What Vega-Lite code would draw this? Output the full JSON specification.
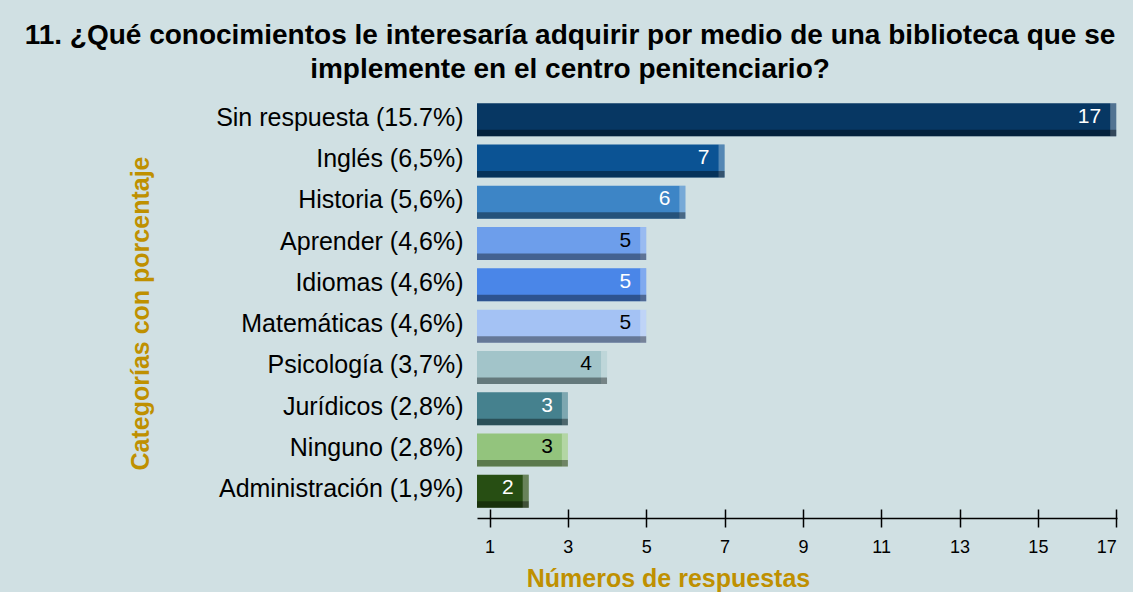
{
  "$schema": "https://vega.github.io/schema/vega-lite/v6.json",
  "autosize": {"type": "none"},
  "width": 640,
  "height": 413,
  "padding": {"left": 477, "top": 99, "right": 16, "bottom": 80},
  "background": "#D0E0E3",
  "config": {"view": {"stroke": null}, "font": "Liberation Sans", "axis": {"grid": false}},
  "title": {
    "text": ["11. ¿Qué conocimientos le interesaría adquirir por medio de una biblioteca que se", "implemente en el centro penitenciario?"],
    "fontSize": 28,
    "fontWeight": "bold",
    "color": "#000000",
    "anchor": "middle",
    "frame": "group",
    "dx": -227,
    "lineHeight": 34,
    "offset": 15
  },
  "data": {
    "values": [
      {"cat": "Sin respuesta (15.7%)", "n": 17},
      {"cat": "Inglés (6,5%)", "n": 7},
      {"cat": "Historia (5,6%)", "n": 6},
      {"cat": "Aprender (4,6%)", "n": 5},
      {"cat": "Idiomas (4,6%)", "n": 5},
      {"cat": "Matemáticas (4,6%)", "n": 5},
      {"cat": "Psicología (3,7%)", "n": 4},
      {"cat": "Jurídicos (2,8%)", "n": 3},
      {"cat": "Ninguno (2,8%)", "n": 3},
      {"cat": "Administración (1,9%)", "n": 2}
    ]
  },
  "encoding": {
    "y": {
      "field": "cat",
      "type": "nominal",
      "sort": null,
      "scale": {"paddingInner": 0.2, "paddingOuter": 0.1},
      "axis": {
        "title": "Categorías con porcentaje",
        "titleColor": "#BF9000",
        "titleFontSize": 25,
        "titleFontWeight": "bold",
        "titleAngle": -90,
        "titleBaseline": "middle",
        "titleAlign": "center",
        "titleX": -337,
        "titleY": 214,
        "labelFontSize": 25,
        "labelColor": "#000000",
        "labelLimit": 500,
        "labelPadding": 14,
        "labelOffset": -2,
        "ticks": false,
        "domain": false
      }
    }
  },
  "resolve": {"axis": {"x": "independent"}},
  "layer": [
    {
      "mark": {"type": "bar"},
      "encoding": {
        "x": {
          "field": "n",
          "type": "quantitative",
          "scale": {"domain": [0.68, 17.02], "zero": false, "clamp": true, "nice": false},
          "axis": {
            "orient": "bottom",
            "offset": 6,
            "values": [1, 3, 5, 7, 9, 11, 13, 15, 17],
            "tickSize": 9,
            "tickWidth": 1.5,
            "tickColor": "#000000",
            "domainColor": "#000000",
            "domainWidth": 1.5,
            "labelFontSize": 18,
            "labelColor": "#000000",
            "labelPadding": 11,
            "title": "Números de respuestas",
            "titleColor": "#BF9000",
            "titleFontSize": 25,
            "titleFontWeight": "bold",
            "titleBaseline": "middle",
            "titleAnchor": "middle",
            "titleX": 191,
            "titleY": 60
          }
        },
        "color": {
          "field": "cat",
          "type": "nominal",
          "sort": null,
          "legend": null,
          "scale": {
            "domain": ["Sin respuesta (15.7%)", "Inglés (6,5%)", "Historia (5,6%)", "Aprender (4,6%)", "Idiomas (4,6%)", "Matemáticas (4,6%)", "Psicología (3,7%)", "Jurídicos (2,8%)", "Ninguno (2,8%)", "Administración (1,9%)"],
            "range": ["#073763", "#0B5394", "#3D85C6", "#6D9EEB", "#4A86E8", "#A4C2F4", "#A2C4C9", "#45818E", "#93C47D", "#274E13"]
          }
        }
      }
    },
    {
      "mark": {"type": "bar", "color": "#FFFFFF", "opacity": 0.3, "xOffset": -6},
      "encoding": {
        "x": {
          "field": "n",
          "type": "quantitative",
          "axis": {
            "orient": "top",
            "offset": -419,
            "values": [1, 3, 5, 7, 9, 11, 13, 15, 17],
            "tickSize": 9,
            "tickWidth": 1.5,
            "tickColor": "#000000",
            "labels": false,
            "domain": false,
            "title": null
          }
        },
        "x2": {"field": "n"}
      }
    },
    {
      "mark": {"type": "bar", "color": "#000000", "opacity": 0.38, "height": 6.5, "yOffset": 13.25},
      "encoding": {
        "x": {"field": "n", "type": "quantitative", "axis": null}
      }
    },
    {
      "mark": {"type": "text", "align": "right", "baseline": "middle", "dx": -15, "dy": -3, "fontSize": 21},
      "encoding": {
        "x": {"field": "n", "type": "quantitative", "axis": null},
        "text": {"field": "n", "type": "quantitative"},
        "color": {
          "condition": {"test": "indexof(['Aprender (4,6%)', 'Matemáticas (4,6%)', 'Psicología (3,7%)', 'Ninguno (2,8%)'], datum.cat) >= 0", "value": "#000000"},
          "value": "#FFFFFF"
        }
      }
    }
  ]
}
